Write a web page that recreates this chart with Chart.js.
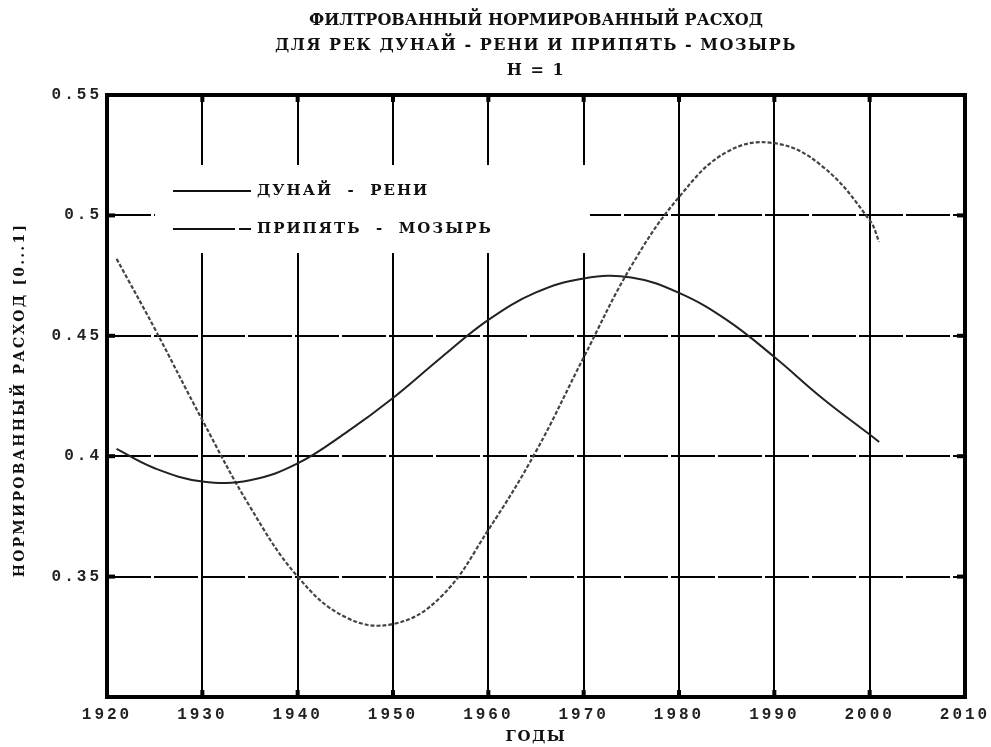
<!DOCTYPE html>
<html>
<head>
<meta charset="utf-8">
<script src="https://cdn.jsdelivr.net/npm/chart.js@4.4.1/dist/chart.umd.min.js"></script>
<style>
  html, body { margin: 0; background: #fff; }
  #wrap { width: 991px; height: 747px; }
</style>
</head>
<body>
<div id="wrap"><canvas id="chart"></canvas></div>
<script>
// values
const years = [1921, 1925, 1930, 1935, 1940, 1945, 1950, 1955, 1960, 1965, 1970, 1975, 1980, 1985, 1990, 1995, 2000, 2001];
const dunaiReni    = [0.403, 0.395, 0.3895, 0.390, 0.397, 0.4096, 0.4242, 0.4408, 0.4566, 0.468, 0.4738, 0.4742, 0.4678, 0.4566, 0.4412, 0.4242, 0.409, 0.4059];
const pripyatMozyr = [0.482, 0.453, 0.415, 0.379, 0.350, 0.3332, 0.3303, 0.3415, 0.3694, 0.402, 0.441, 0.479, 0.5076, 0.5263, 0.530, 0.5205, 0.498, 0.489];

const seriesLabels = ['ДУНАЙ  -  РЕНИ', 'ПРИПЯТЬ  -  МОЗЫРЬ'];
const titleLines = [
  'ФИЛТРОВАННЫЙ НОРМИРОВАННЫЙ РАСХОД',
  'ДЛЯ РЕК ДУНАЙ - РЕНИ И ПРИПЯТЬ - МОЗЫРЬ',
  'H = 1'
];
const titleSpacing = ['0px', '1.5px', '1.5px'];
const xTitle = 'ГОДЫ';
const yTitle = 'НОРМИРОВАННЫЙ РАСХОД [0...1]';
const xMin = 1920, xMax = 2010, xStep = 10;
const yMin = 0.3, yMax = 0.55, yStep = 0.05;

const mono = '"Liberation Mono", monospace';

const pts = (vals) => years.map((x, i) => ({x, y: vals[i]}));

// box, inner tick nubs, legend and texts that the stock plugins can't place
const decor = {
  id: 'decor',
  beforeDraw(chart) {
    chart.ctx.letterSpacing = '3px';   // wide monospace tick labels
  },
  beforeDatasetsDraw(chart) {
    const ctx = chart.ctx;
    const a = chart.chartArea;
    ctx.save();
    ctx.letterSpacing = '2px';
    ctx.fillStyle = '#fff';
    ctx.fillRect(a.left + 48, a.top + 70, 435, 88);
    const rows = [a.top + 96, a.top + 134];
    chart.data.datasets.forEach((ds, i) => {
      ctx.strokeStyle = '#111';
      ctx.lineWidth = 2;
      ctx.setLineDash(ds.legendDash);
      ctx.beginPath();
      ctx.moveTo(a.left + 66, rows[i]);
      ctx.lineTo(a.left + 144, rows[i]);
      ctx.stroke();
      ctx.setLineDash([]);
      ctx.fillStyle = '#111';
      ctx.font = 'bold 15px "DejaVu Serif"';
      ctx.textBaseline = 'middle';
      ctx.textAlign = 'left';
      ctx.fillText(ds.label, a.left + 150, rows[i]);
    });
    ctx.restore();
  },
  afterDraw(chart) {
    const ctx = chart.ctx;
    const a = chart.chartArea;
    const xs = chart.scales.x, ys = chart.scales.y;
    ctx.save();
    ctx.fillStyle = '#000';
    xs.ticks.forEach(t => {
      const px = xs.getPixelForValue(t.value);
      ctx.fillRect(px - 2, a.bottom - 7, 4, 7);
      ctx.fillRect(px - 2, a.top, 4, 7);
    });
    ys.ticks.forEach(t => {
      const py = ys.getPixelForValue(t.value);
      ctx.fillRect(a.left, py - 2, 8, 4);
      ctx.fillRect(a.right - 8, py - 2, 8, 4);
    });
    ctx.strokeStyle = '#000';
    ctx.lineWidth = 4;
    ctx.strokeRect(a.left, a.top, a.right - a.left, a.bottom - a.top);

    ctx.fillStyle = '#111';
    ctx.textAlign = 'center';
    ctx.textBaseline = 'middle';
    ctx.font = 'bold 16px "DejaVu Serif"';
    const cx = (a.left + a.right) / 2;
    titleLines.forEach((s, i) => {
      ctx.letterSpacing = titleSpacing[i];
      ctx.fillText(s, cx, 21 + i * 25);
    });
    ctx.letterSpacing = '1.5px';
    ctx.font = 'bold 15px "DejaVu Serif"';
    ctx.fillText(xTitle, cx, 737);
    ctx.translate(20, (a.top + a.bottom) / 2 + 4);
    ctx.rotate(-Math.PI / 2);
    ctx.letterSpacing = '2.2px';
    ctx.font = 'bold 14px "DejaVu Serif"';
    ctx.fillText(yTitle, 0, 0);
    ctx.restore();
  }
};

new Chart(document.getElementById('chart'), {
  type: 'line',
  data: {
    datasets: [
      {
        label: seriesLabels[0],
        data: pts(dunaiReni),
        borderColor: '#222',
        borderWidth: 2,
        pointRadius: 0,
        tension: 0.4,
        legendDash: []
      },
      {
        label: seriesLabels[1],
        data: pts(pripyatMozyr),
        borderColor: '#444',
        borderWidth: 2.2,
        borderDash: [4, 2],
        pointRadius: 0,
        tension: 0.4,
        legendDash: [62, 4]
      }
    ]
  },
  options: {
    responsive: true,
    maintainAspectRatio: false,
    animation: false,
    layout: { padding: { top: 95, right: 26, left: 0, bottom: 0 } },
    plugins: { legend: { display: false }, title: { display: false }, tooltip: { enabled: false } },
    scales: {
      x: {
        type: 'linear',
        min: xMin, max: xMax,
        border: { display: false },
        grid: { color: '#000', lineWidth: 2, drawTicks: false },
        ticks: {
          stepSize: xStep, autoSkip: false, maxRotation: 0, padding: 8,
          color: '#222',
          font: { family: mono, size: 16, weight: 'bold' },
          callback: v => String(v)
        },
        afterFit: s => { s.height = 50; s.paddingLeft = 0; s.paddingRight = 0; }
      },
      y: {
        min: yMin, max: yMax,
        // in v4 border.dash styles the grid lines: long dashes across the plot
        border: { display: false, dash: [44, 3] },
        grid: { color: '#000', lineWidth: 2, drawTicks: false },
        ticks: {
          stepSize: yStep, padding: 5,
          color: '#222',
          font: { family: mono, size: 16, weight: 'bold' },
          callback: v => Math.abs(v - yMin) < 1e-9 ? '' : String(+v.toFixed(2))
        },
        afterFit: s => { s.width = 107; }
      }
    }
  },
  plugins: [decor]
});
</script>
</body>
</html>
